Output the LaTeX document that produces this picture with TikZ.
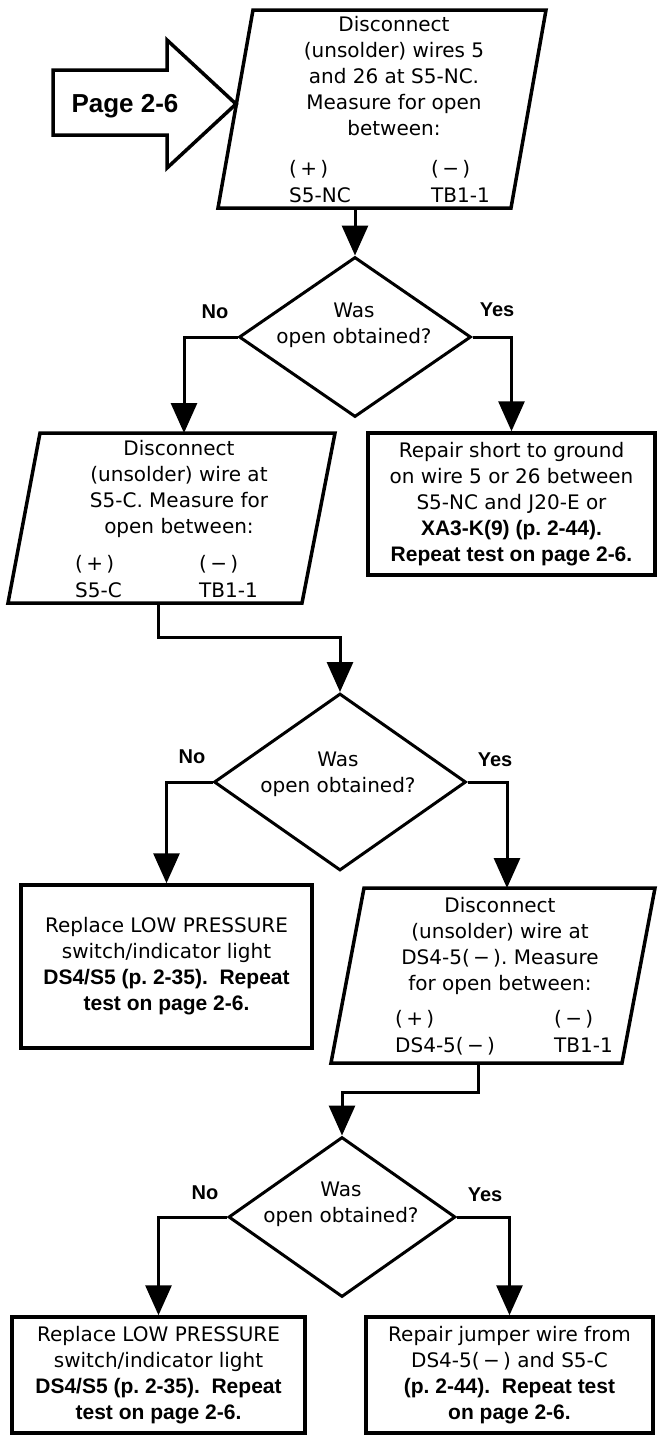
\documentclass[tikz,border=0pt]{standalone}
\usepackage{fontspec}
\setmainfont{DejaVu Sans}
\newfontfamily\helv{Liberation Sans}
\usetikzlibrary{arrows.meta,shapes.geometric,positioning}
\frenchspacing
\newcommand{\boldtxt}{\helv\bfseries\fontsize{21}{26}\selectfont}
\tikzset{
  flow/.style={line width=3pt, -{Triangle[width=26pt,length=30pt]}},
  outline/.style={line width=3.5pt},
  rbox/.style={draw, line width=3.5pt, inner sep=0pt, align=center, font=\fontsize{20}{26}\selectfont},
  txt/.style={inner sep=0pt, align=center, font=\fontsize{20}{26}\selectfont},
  col/.style={inner sep=0pt, anchor=base west, font=\fontsize{20}{26}\selectfont},
  ask/.style={diamond, draw, line width=3pt, inner sep=0pt},
  yesno/.style={inner sep=0pt, font=\helv\bfseries\fontsize{20}{24}\selectfont},
}
\begin{document}
\begin{tikzpicture}[x=1pt,y=-1pt]
        \useasboundingbox (0,0) rectangle (657,1436);
        % entry arrow
        \draw[outline] (53,70) -- (167,70) -- (167,40) -- (236,104) -- (167,168) -- (167,135) -- (53,135) -- cycle;
        \node[inner sep=0pt, font=\helv\bfseries\fontsize{26}{30}\selectfont] (pg) at (125,106) {Page 2-6};
        % first measurement
        \draw[outline] (253,10) -- (546,10) -- (511,208) -- (218,208) -- cycle;
        \node[txt, anchor=north] (b1) at (394,16) {Disconnect\\(unsolder) wires 5\\and 26 at S5-NC.\\Measure for open\\between:};
        \node[col] (b1plus) at (289,175) {(\,+\,)};
        \node[col] (b1pin) at (289,202) {S5-NC};
        \node[col] (b1minus) at (431,175) {(\,−\,)};
        \node[col] (b1gnd) at (431,202) {TB1-1};
        \coordinate (b1s) at (355,208);
        % first question
        \node[ask, minimum width=232pt, minimum height=160pt] (d1) at (355,337) {};
        \node[txt, anchor=north] (d1t) at (354,303) {Was\\open obtained?};
        \node[yesno] (d1no) at (215,312) {No};
        \node[yesno] (d1yes) at (497,310) {Yes};
        \draw[flow] (b1s) -- (d1.north);
        % second measurement
        \draw[outline] (40,433) -- (335,433) -- (302,603) -- (8,603) -- cycle;
        \node[txt, anchor=north] (b2) at (179,440) {Disconnect\\(unsolder) wire at\\S5-C. Measure for\\open between:};
        \node[col] (b2plus) at (75,570) {(\,+\,)};
        \node[col] (b2pin) at (75,597) {S5-C};
        \node[col] (b2minus) at (199,570) {(\,−\,)};
        \node[col] (b2gnd) at (199,597) {TB1-1};
        \coordinate (b2n) at (184,433);
        \coordinate (b2s) at (158,603);
        \node[rbox, minimum width=287pt, minimum height=142pt] (b3) at (511.5,504) {Repair short to ground\\on wire 5 or 26 between\\S5-NC and J20-E or\\{\boldtxt XA3-K(9) (p. 2-44).}\\{\boldtxt Repeat test on page 2-6.}};
        \draw[flow] (d1.west) -| (b2n);
        \draw[flow] (d1.east) -| (b3.north);
        % second question
        \node[ask, minimum width=252pt, minimum height=177pt] (d2) at (340,782) {};
        \node[txt, anchor=north] (d2t) at (338,752) {Was\\open obtained?};
        \node[yesno] (d2no) at (192,757) {No};
        \node[yesno] (d2yes) at (495,760) {Yes};
        \draw[flow] (b2s) -- ++(0,34) -| (d2.north);
        \node[rbox, minimum width=291pt, minimum height=163pt] (b4) at (166.5,966.5) {Replace LOW PRESSURE\\switch/indicator light\\{\boldtxt DS4/S5 (p. 2-35).\ \ Repeat}\\{\boldtxt test on page 2-6.}};
        % third measurement
        \draw[outline] (364,888) -- (655,888) -- (622,1063) -- (331,1063) -- cycle;
        \node[txt, anchor=north] (b5) at (500,897) {Disconnect\\(unsolder) wire at\\DS4-5(\,−\,). Measure\\for open between:};
        \node[col] (b5plus) at (395,1025) {(\,+\,)};
        \node[col] (b5pin) at (395,1052) {DS4-5(\,−\,)};
        \node[col] (b5minus) at (554,1025) {(\,−\,)};
        \node[col] (b5gnd) at (554,1052) {TB1-1};
        \coordinate (b5n) at (507,888);
        \coordinate (b5s) at (478,1063);
        \draw[flow] (d2.west) -| (b4.north);
        \draw[flow] (d2.east) -| (b5n);
        % third question
        \node[ask, minimum width=227pt, minimum height=160pt] (d3) at (342,1217) {};
        \node[txt, anchor=north] (d3t) at (341,1182) {Was\\open obtained?};
        \node[yesno] (d3no) at (205,1193) {No};
        \node[yesno] (d3yes) at (485,1195) {Yes};
        \draw[flow] (b5s) -- ++(0,29) -| (d3.north);
        \node[rbox, minimum width=293pt, minimum height=116pt] (b6) at (158.5,1375) {Replace LOW PRESSURE\\switch/indicator light\\{\boldtxt DS4/S5 (p. 2-35).\ \ Repeat}\\{\boldtxt test on page 2-6.}};
        \node[rbox, minimum width=287pt, minimum height=116pt] (b7) at (509.5,1375) {Repair jumper wire from\\DS4-5(\,−\,) and S5-C\\{\boldtxt (p. 2-44).\ \ Repeat test}\\{\boldtxt on page 2-6.}};
        \draw[flow] (d3.west) -| (b6.north);
        \draw[flow] (d3.east) -| (b7.north);
      \end{tikzpicture}
\end{document}
